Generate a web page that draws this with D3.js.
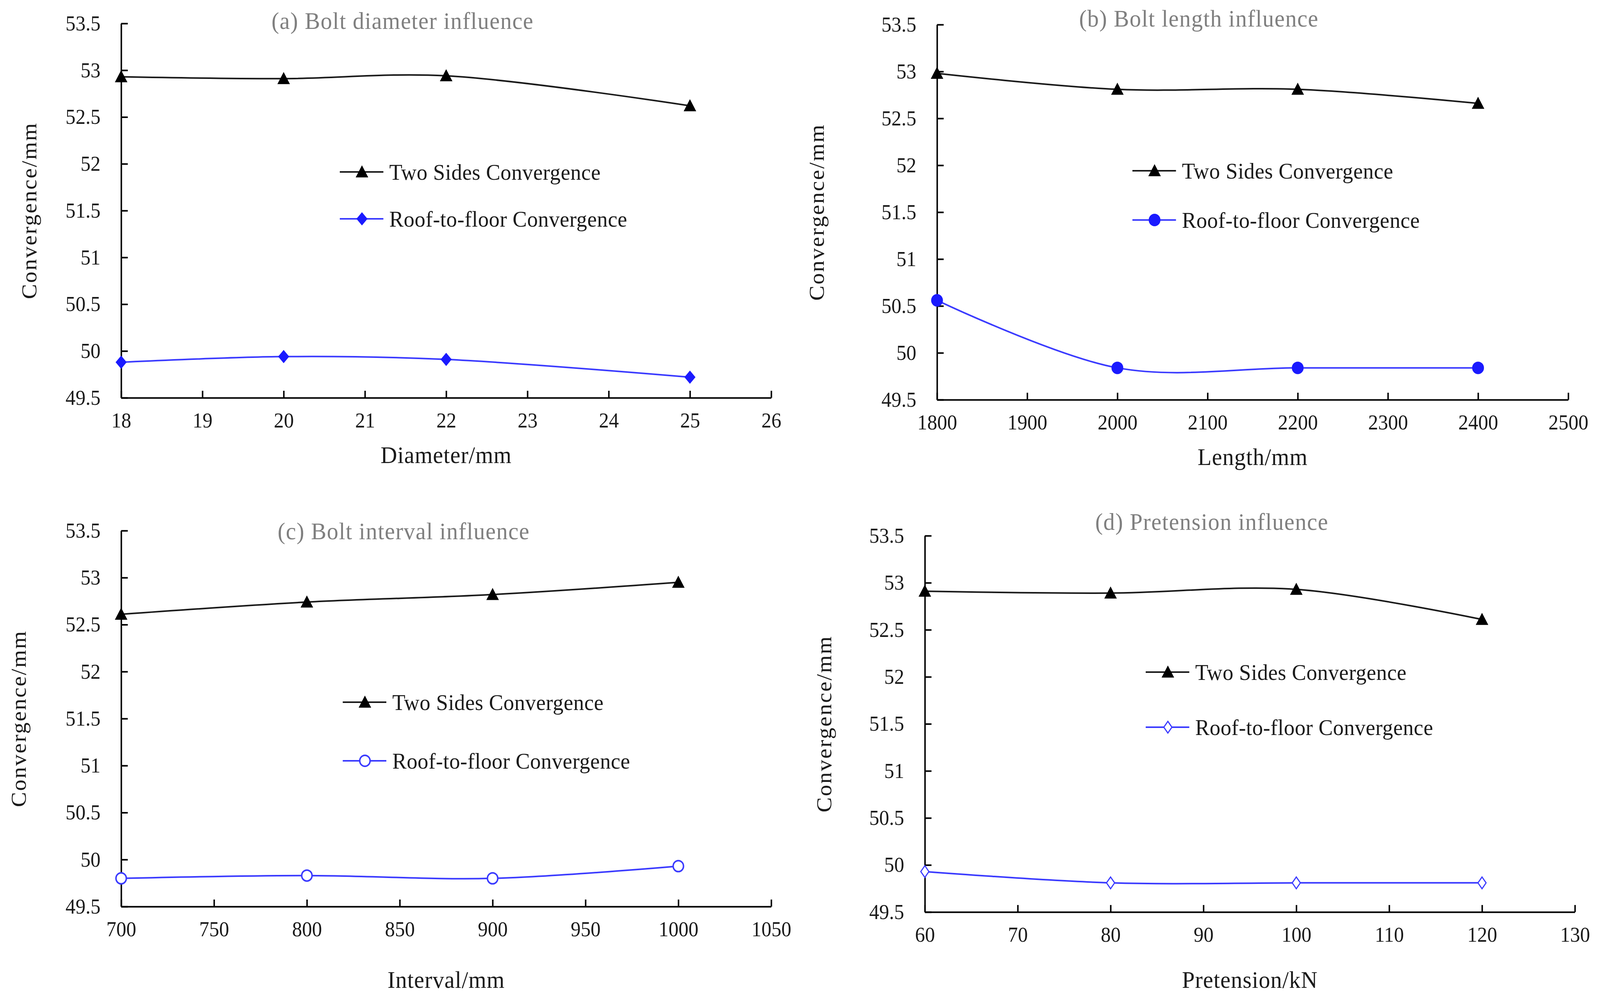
<!DOCTYPE html>
<html>
<head>
<meta charset="utf-8">
<script src="https://cdn.jsdelivr.net/npm/d3@7"></script>
<style>
  html, body { margin: 0; padding: 0; background: #fff; overflow: hidden; width: 100%; height: 100%; }
  svg { display: block; }
  text { font-family: "Liberation Serif", "Times New Roman", serif; }
</style>
</head>
<body>
<script>
// data
var yTicks = [49.5, 50, 50.5, 51, 51.5, 52, 52.5, 53, 53.5];

var diameterX = [18, 20, 22, 25];
var diameterTwoSides = [52.93, 52.91, 52.94, 52.62];
var diameterRoof = [49.88, 49.94, 49.91, 49.72];
var diameterTicks = [18, 19, 20, 21, 22, 23, 24, 25, 26];

var lengthX = [1800, 2000, 2200, 2400];
var lengthTwoSides = [52.98, 52.81, 52.81, 52.66];
var lengthRoof = [50.56, 49.84, 49.84, 49.84];
var lengthTicks = [1800, 1900, 2000, 2100, 2200, 2300, 2400, 2500];

var intervalX = [700, 800, 900, 1000];
var intervalTwoSides = [52.61, 52.74, 52.82, 52.95];
var intervalRoof = [49.80, 49.83, 49.80, 49.93];
var intervalTicks = [700, 750, 800, 850, 900, 950, 1000, 1050];

var pretensionX = [60, 80, 100, 120];
var pretensionTwoSides = [52.91, 52.89, 52.93, 52.61];
var pretensionRoof = [49.93, 49.81, 49.81, 49.81];
var pretensionTicks = [60, 70, 80, 90, 100, 110, 120, 130];

var seriesNames = ["Two Sides Convergence", "Roof-to-floor Convergence"];

var w = 4332;
var h = 2554;
var blue = "#3a3aff";

// svg fills the window, drawing done in 4332x2554 units
var svg = d3.select("body")
      .append("svg")
      .attr("width", "100%")
      .attr("height", "100%")
      .attr("viewBox", "0 0 " + w + " " + h)
      .attr("preserveAspectRatio", "none");

// panel layout (pixel boxes), one per chart
var panels = [
  { title: "(a) Bolt diameter influence", xTitle: "Diameter/mm",
    xs: diameterX, two: diameterTwoSides, roof: diameterRoof, ticks: diameterTicks,
    left: 328, right: 2088, top: 60, bottom: 1018,
    titleX: 1090, titleY: 74, xTitleY: 1185, yTitleX: 78,
    legX: 920, legY: 440, legGap: 120, marker: "diamond" },
  { title: "(b) Bolt length influence", xTitle: "Length/mm",
    xs: lengthX, two: lengthTwoSides, roof: lengthRoof, ticks: lengthTicks,
    left: 2537, right: 4246, top: 63, bottom: 1023,
    titleX: 3246, titleY: 68, xTitleY: 1190, yTitleX: 2210,
    legX: 3066, legY: 437, legGap: 126, marker: "circle" },
  { title: "(c) Bolt interval influence", xTitle: "Interval/mm",
    xs: intervalX, two: intervalTwoSides, roof: intervalRoof, ticks: intervalTicks,
    left: 328, right: 2088, top: 1358, bottom: 2320,
    titleX: 1093, titleY: 1380, xTitleY: 2528, yTitleX: 50,
    legX: 928, legY: 1797, legGap: 150, marker: "openCircle" },
  { title: "(d) Pretension influence", xTitle: "Pretension/kN",
    xs: pretensionX, two: pretensionTwoSides, roof: pretensionRoof, ticks: pretensionTicks,
    left: 2504, right: 4264, top: 1371, bottom: 2334,
    titleX: 3281, titleY: 1356, xTitleY: 2528, yTitleX: 2230,
    legX: 3102, legY: 1720, legGap: 141, marker: "openDiamond" }
];

// marker drawing
function drawMarker(g, type, x, y) {
  if (type == "triangle") {
    g.append("path")
     .attr("d", "M" + x + "," + (y - 17) + "L" + (x + 17) + "," + (y + 14) + "L" + (x - 17) + "," + (y + 14) + "Z")
     .attr("fill", "#000");
  } else if (type == "diamond") {
    g.append("path")
     .attr("d", "M" + x + "," + (y - 17) + "L" + (x + 15) + "," + y + "L" + x + "," + (y + 17) + "L" + (x - 15) + "," + y + "Z")
     .attr("fill", "#1a1aff");
  } else if (type == "circle") {
    g.append("circle").attr("cx", x).attr("cy", y).attr("r", 16).attr("fill", "#1a1aff");
  } else if (type == "openCircle") {
    g.append("circle").attr("cx", x).attr("cy", y).attr("r", 14)
     .attr("fill", "#fff").attr("stroke", blue).attr("stroke-width", 4);
  } else if (type == "openDiamond") {
    g.append("path")
     .attr("d", "M" + x + "," + (y - 15) + "L" + (x + 11) + "," + y + "L" + x + "," + (y + 15) + "L" + (x - 11) + "," + y + "Z")
     .attr("fill", "#fff").attr("stroke", blue).attr("stroke-width", 3);
  }
}

panels.forEach(function(p) {
  var g = svg.append("g");

  var x = d3.scaleLinear()
        .domain([p.ticks[0], p.ticks[p.ticks.length - 1]])
        .range([p.left, p.right]);
  var y = d3.scaleLinear()
        .domain([49.5, 53.5])
        .range([p.bottom, p.top]);

  // axes, ticks pointing inward
  var xAxis = g.append("g")
        .attr("transform", "translate(0," + p.bottom + ")")
        .call(d3.axisBottom(x).tickValues(p.ticks).tickSizeInner(-18).tickSizeOuter(0).tickPadding(38).tickFormat(function(d) { return d; }));
  var yAxis = g.append("g")
        .attr("transform", "translate(" + p.left + ",0)")
        .call(d3.axisLeft(y).tickValues(yTicks).tickSizeInner(-18).tickSizeOuter(0).tickPadding(56).tickFormat(function(d) { return d; }));

  [xAxis, yAxis].forEach(function(a) {
    a.select(".domain").attr("stroke", "#000").attr("stroke-width", 4);
    a.selectAll(".tick line").attr("stroke", "#000").attr("stroke-width", 4);
    a.selectAll(".tick text").attr("fill", "#1a1a1a").style("font-size", "54px")
     .style("font-family", "'Liberation Serif', serif");
  });

  // lines
  var line = d3.line()
        .x(function(d, i) { return x(p.xs[i]); })
        .y(function(d) { return y(d); })
        .curve(d3.curveCatmullRom);

  g.append("path")
   .attr("d", line(p.two))
   .attr("fill", "none")
   .attr("stroke", "#1a1a1a")
   .attr("stroke-width", 4);

  g.append("path")
   .attr("d", line(p.roof))
   .attr("fill", "none")
   .attr("stroke", blue)
   .attr("stroke-width", 4);

  p.two.forEach(function(d, i) { drawMarker(g, "triangle", x(p.xs[i]), y(d)); });
  p.roof.forEach(function(d, i) { drawMarker(g, p.marker, x(p.xs[i]), y(d)); });

  // title
  g.append("text")
   .attr("x", p.titleX)
   .attr("y", p.titleY)
   .attr("text-anchor", "middle")
   .attr("fill", "#7f7f7f")
   .style("font-size", "62px")
   .style("letter-spacing", "1.5px")
   .text(p.title);

  // axis titles
  g.append("text")
   .attr("x", (p.left + p.right) / 2)
   .attr("y", p.xTitleY)
   .attr("text-anchor", "middle")
   .attr("fill", "#1a1a1a")
   .style("font-size", "62px")
   .style("letter-spacing", "1px")
   .text(p.xTitle);

  g.append("text")
   .attr("transform", "translate(" + p.yTitleX + "," + ((p.top + p.bottom) / 2) + ") rotate(-90)")
   .attr("text-anchor", "middle")
   .attr("dy", "0.35em")
   .attr("fill", "#1a1a1a")
   .style("font-size", "58px")
   .style("letter-spacing", "3px")
   .text("Convergence/mm");

  // legend
  var legColors = ["#1a1a1a", blue];
  var legMarkers = ["triangle", p.marker];
  seriesNames.forEach(function(name, i) {
    var ly = p.legY + i * p.legGap;
    g.append("line")
     .attr("x1", p.legX).attr("x2", p.legX + 118)
     .attr("y1", ly).attr("y2", ly)
     .attr("stroke", legColors[i]).attr("stroke-width", 4);
    drawMarker(g, legMarkers[i], p.legX + 60, ly);
    g.append("text")
     .attr("x", p.legX + 134)
     .attr("y", ly + 20)
     .attr("fill", "#1a1a1a")
     .style("font-size", "58px")
     .style("letter-spacing", "0.5px")
     .text(name);
  });
});
</script>
</body>
</html>
